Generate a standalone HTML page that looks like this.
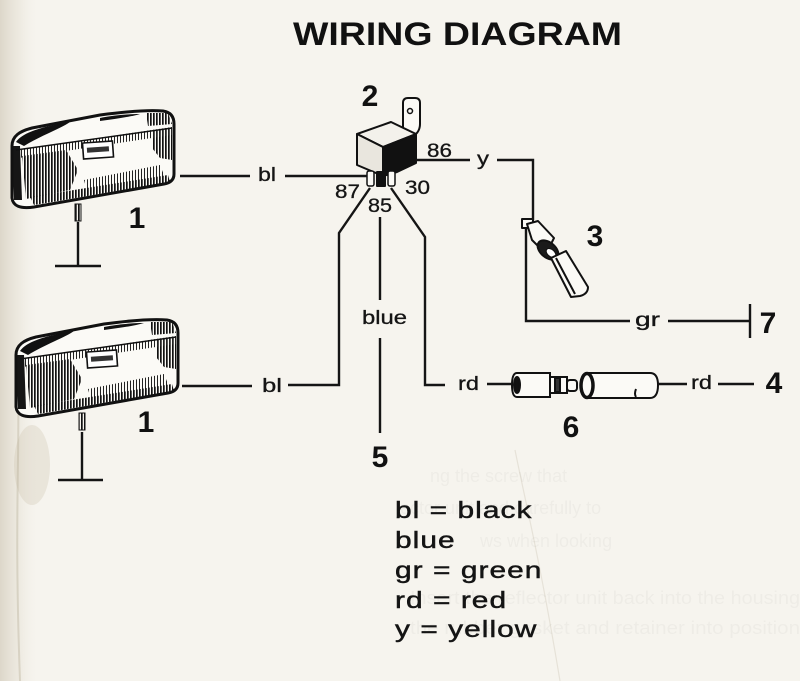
<!DOCTYPE html>
<html><head><meta charset="utf-8">
<style>
html,body{margin:0;padding:0;background:#f6f4ee;}
svg{display:block}
text{font-family:"Liberation Sans",Arial,sans-serif;}
</style></head>
<body>
<svg width="800" height="681" viewBox="0 0 800 681" xmlns="http://www.w3.org/2000/svg">
<defs>
<pattern id="vs" width="3" height="10" patternUnits="userSpaceOnUse"><rect width="1.7" height="10" fill="#111"/></pattern>
<pattern id="vs2" width="3" height="10" patternUnits="userSpaceOnUse"><rect width="1" height="10" fill="#222"/></pattern>
<linearGradient id="edge" x1="0" x2="1" y1="0" y2="0">
<stop offset="0" stop-color="#d6cfc0" stop-opacity="0.8"/>
<stop offset="0.5" stop-color="#e2dccf" stop-opacity="0.4"/>
<stop offset="1" stop-color="#f6f4ee" stop-opacity="0"/>
</linearGradient>
</defs>
<rect width="800" height="681" fill="#f6f4ee"/>
<rect x="0" y="0" width="40" height="681" fill="url(#edge)"/>
<ellipse cx="32" cy="465" rx="18" ry="40" fill="#c2b79f" opacity="0.25"/>
<path d="M18,380 C20,450 14,520 20,681" stroke="#b3a88f" stroke-width="2" fill="none" opacity="0.35"/>
<path d="M515,450 C525,500 540,560 560,681" stroke="#dcd6ca" stroke-width="1.2" fill="none" opacity="0.6"/>

<!-- show-through text -->
<g fill="#555" opacity="0.045" font-size="18">
<text x="430" y="482">ng the screw that</text>
<text x="400" y="514">ector unit and carefully to</text>
<text x="480" y="547">ws when looking</text>
<text x="410" y="604" textLength="390" lengthAdjust="spacingAndGlyphs">Insert the reflector unit back into the housing</text>
<text x="410" y="634" textLength="390" lengthAdjust="spacingAndGlyphs">the rubber gasket and retainer into position</text>
</g>

<!-- Title -->
<text x="293" y="45" font-size="32" font-weight="bold" fill="#111" textLength="329" lengthAdjust="spacingAndGlyphs">WIRING DIAGRAM</text>

<!-- Lamp (top) -->
<g id="lamp">
<path d="M12,146 C12,136 20,131 32,128 L100,115 C130,111 150,110 163,111 C170,112 174,116 174,124 L174,174 C174,180 170,183 164,184 L34,207 C20,209 13,206 12,198 Z" fill="#fbfaf6"/>
<path d="M22,156 L66,150 L78,170 L70,190 L26,199 Z" fill="url(#vs)"/>
<path d="M152,131 L172,128 L172,160 L160,158 L152,148 Z" fill="url(#vs)"/>
<path d="M84,180 L160,165 L166,180 L88,195 Z" fill="url(#vs2)"/>
<path d="M30,197 L168,175 L170,182 L34,205 Z" fill="url(#vs)"/>
<path d="M17,150 L172,127 L172,135 L19,158 Z" fill="url(#vs2)"/>
<path d="M146,113 L168,113 L172,124 L148,126 Z" fill="url(#vs)"/>
<path d="M16,142 C22,133 40,127 70,122 C62,128 40,136 24,146 Z" fill="#111"/>
<path d="M100,118 C115,115 130,114 140,114 C130,117 115,119 100,121 Z" fill="#111"/>
<path d="M12,146 L20,146 L22,200 L14,200 Z" fill="#161616"/>
<path d="M16,150 L172,128" stroke="#111" stroke-width="1.5" fill="none"/>
<rect x="83" y="142" width="30" height="16" fill="#fff" stroke="#111" stroke-width="1.6" transform="rotate(-4 98 150)"/>
<rect x="87" y="147" width="22" height="5" fill="#333" transform="rotate(-4 98 150)"/>
<path d="M12,146 C12,136 20,131 32,128 L100,115 C130,111 150,110 163,111 C170,112 174,116 174,124 L174,174 C174,180 170,183 164,184 L34,207 C20,209 13,206 12,198 Z" fill="none" stroke="#111" stroke-width="3"/>
</g>
<use href="#lamp" transform="translate(4,209)"/>

<!-- lamp stems and grounds -->
<g stroke="#141414" stroke-width="2.4" fill="none">
<rect x="75" y="204" width="6" height="17" fill="url(#vs)" stroke-width="1"/>
<path d="M78,222 L78,266 M55,266 L101,266"/>
<rect x="79" y="413" width="6" height="17" fill="url(#vs)" stroke-width="1"/>
<path d="M82,432 L82,480 M58,480 L103,480"/>
</g>

<!-- Relay -->
<g stroke="#111" stroke-width="2" stroke-linejoin="round">
<path d="M403,131 L403,103 Q403,98 408,98 L415,98 Q420,98 420,103 L420,124 Q420,130 416,134 Z" fill="#fbfaf6"/>
<circle cx="410" cy="111" r="2.5" fill="none" stroke-width="1.5"/>
<polygon points="357,134 391,122 416,134 383,147" fill="#f3f1eb"/>
<polygon points="357,134 383,147 383,176 357,165" fill="#e9e6de"/>
<polygon points="383,147 416,134 416,163 397,172 383,176" fill="#111"/>
<rect x="367" y="171" width="7" height="15" rx="2" fill="#fbfaf6" stroke-width="1.5"/>
<rect x="377" y="172" width="8" height="14" fill="#111"/>
<rect x="388" y="171" width="7" height="15" rx="2" fill="#fbfaf6" stroke-width="1.5"/>
</g>

<!-- Switch -->
<g stroke="#111" stroke-width="2" fill="#fbfaf6" stroke-linejoin="round">
<path d="M522,219 L533,219 L533,228 L522,228 Z"/>
<path d="M527,224 L538,221 L554,238 L546,254 L532,240 Z"/>
<ellipse cx="548" cy="250" rx="12" ry="7.5" transform="rotate(40 548 250)" fill="#1a1a1a"/>
<ellipse cx="551" cy="253" rx="5.5" ry="3.5" transform="rotate(40 551 253)" fill="#fff" stroke-width="1"/>
<path d="M551,258 L566,251 L588,287 Q588,294 580,296 L571,297 Z"/>
<path d="M556,258 L575,294" fill="none" stroke-width="2"/>
</g>

<!-- Fuse holder -->
<g stroke="#111" stroke-width="2" fill="#fbfaf6">
<path d="M517,373 L550,373 L550,397 L517,397 Q512,397 512,385 Q512,373 517,373 Z"/>
<ellipse cx="517" cy="385" rx="3" ry="8" fill="#111"/>
<rect x="550" y="377" width="17" height="16"/>
<rect x="567" y="380" width="10" height="11" rx="3"/>
<rect x="555" y="378" width="5" height="14" fill="#333"/>
<path d="M586,373 L650,373 Q658,373 658,385 Q658,398 650,398 L586,398"/>
<ellipse cx="587" cy="385.5" rx="6" ry="12" stroke-width="3.5"/>
<path d="M636,389 Q634,394 636,397" fill="none"/>
</g>

<!-- Wires -->
<g stroke="#151515" stroke-width="2.4" fill="none" stroke-linejoin="miter">
<path d="M180,176 L250,176 M285,176 L367,176"/>
<path d="M370,188 L339,233 L339,385 L288,385"/>
<path d="M182,386 L252,386"/>
<path d="M380,217 L380,300 M380,338 L380,433"/>
<path d="M391,188 L425,237 L425,385 L445,385"/>
<path d="M487,384 L512,384"/>
<path d="M416,160 L470,160 M497,160 L533,160 L533,220"/>
<path d="M526,228 L526,321 L630,321 M668,321 L750,321 M750,304 L750,338"/>
<path d="M658,384 L687,384 M718,384 L754,384"/>
</g>

<!-- Small labels -->
<g fill="#151515" font-size="19" stroke="#151515" stroke-width="0.3">
<text x="258" y="181" textLength="18" lengthAdjust="spacingAndGlyphs">bl</text>
<text x="262" y="392" textLength="20" lengthAdjust="spacingAndGlyphs">bl</text>
<text x="477" y="165" textLength="12" lengthAdjust="spacingAndGlyphs">y</text>
<text x="427" y="157" textLength="25" lengthAdjust="spacingAndGlyphs">86</text>
<text x="335" y="198" textLength="25" lengthAdjust="spacingAndGlyphs">87</text>
<text x="368" y="212" textLength="24" lengthAdjust="spacingAndGlyphs">85</text>
<text x="405" y="194" textLength="25" lengthAdjust="spacingAndGlyphs">30</text>
<text x="362" y="324" textLength="45" lengthAdjust="spacingAndGlyphs">blue</text>
<text x="458" y="390" textLength="21" lengthAdjust="spacingAndGlyphs">rd</text>
<text x="635" y="326" textLength="25" lengthAdjust="spacingAndGlyphs">gr</text>
<text x="691" y="389" textLength="21" lengthAdjust="spacingAndGlyphs">rd</text>
</g>

<!-- Numbers -->
<g fill="#111" font-size="30" font-weight="bold" text-anchor="middle">
<text x="137" y="228">1</text>
<text x="146" y="432">1</text>
<text x="370" y="106">2</text>
<text x="595" y="246">3</text>
<text x="768" y="333">7</text>
<text x="774" y="393">4</text>
<text x="380" y="467">5</text>
<text x="571" y="437">6</text>
</g>

<!-- Legend -->
<g transform="translate(395,0) scale(1.3,1)" fill="#141414" font-size="23" stroke="#141414" stroke-width="0.45" letter-spacing="0.8">
<text x="0" y="518">bl = black</text>
<text x="0" y="548">blue</text>
<text x="0" y="578">gr = green</text>
<text x="0" y="608">rd = red</text>
<text x="0" y="637">y = yellow</text>
</g>
</svg>
</body>
</html>
